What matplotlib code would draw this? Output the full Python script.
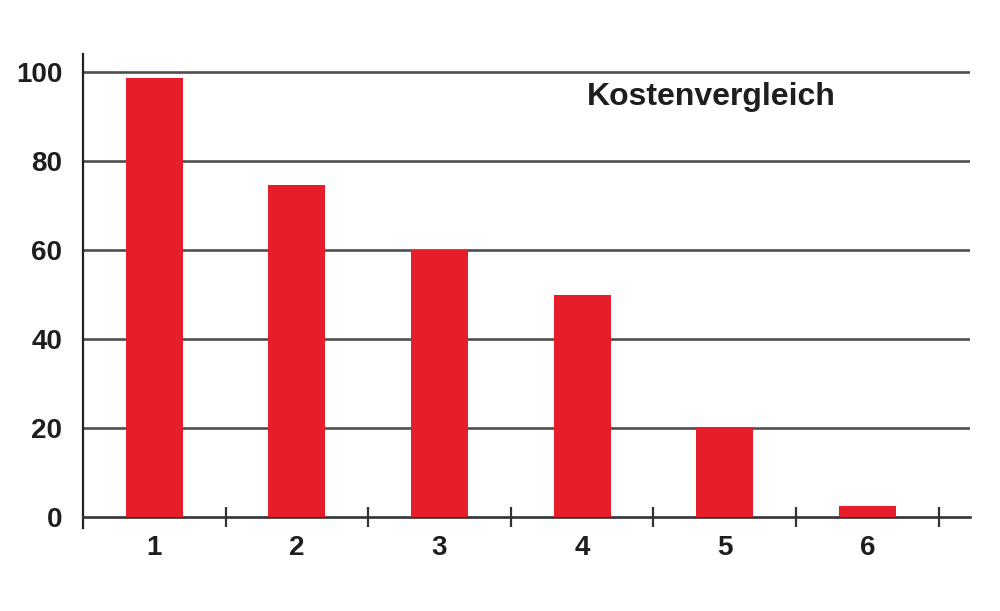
import matplotlib.pyplot as plt
import numpy as np

categories = [1, 2, 3, 4, 5, 6]
values = [98.8, 74.7, 60, 50, 20.2, 2.5]
yticks = [0, 20, 40, 60, 80, 100]
title = "Kostenvergleich"

plt.rcParams['font.family'] = ['Liberation Sans', 'DejaVu Sans']

fig = plt.figure(figsize=(10, 6.11), dpi=100)
ax = fig.add_axes([0.083, 0.136, 0.887, 0.775])

ax.bar(categories, values, width=0.4, color="#e61e29", zorder=3)

for y in yticks[1:]:
    ax.axhline(y, color="#4f4f4f", linewidth=1.9, zorder=1)

ax.set_xlim(0.5, 6.72)
ax.set_ylim(-2.4, 104)

ax.spines['top'].set_visible(False)
ax.spines['right'].set_visible(False)
ax.spines['bottom'].set_position(('data', 0))
ax.spines['bottom'].set_color("#333333")
ax.spines['bottom'].set_linewidth(1.9)
ax.spines['left'].set_color("#222222")
ax.spines['left'].set_linewidth(1.6)

ax.set_xticks(categories)
ax.set_xticklabels([str(c) for c in categories], fontsize=20, fontweight='bold', color="#1e1e1e")
ax.set_xticks(np.array(categories) + 0.5, minor=True)
ax.tick_params(axis='x', which='major', length=0, pad=13)
ax.tick_params(axis='x', which='minor', direction='inout', length=15, width=1.6, color="#333333")

ax.set_yticks(yticks)
ax.set_yticklabels([str(t) for t in yticks], fontsize=20, fontweight='bold', color="#1e1e1e")
ax.tick_params(axis='y', length=0, pad=15)

ax.text(4.03, 94.4, title, fontsize=23, fontweight='bold', color="#1e1e1e",
        ha='left', va='center', zorder=4)

plt.savefig("out.png")
